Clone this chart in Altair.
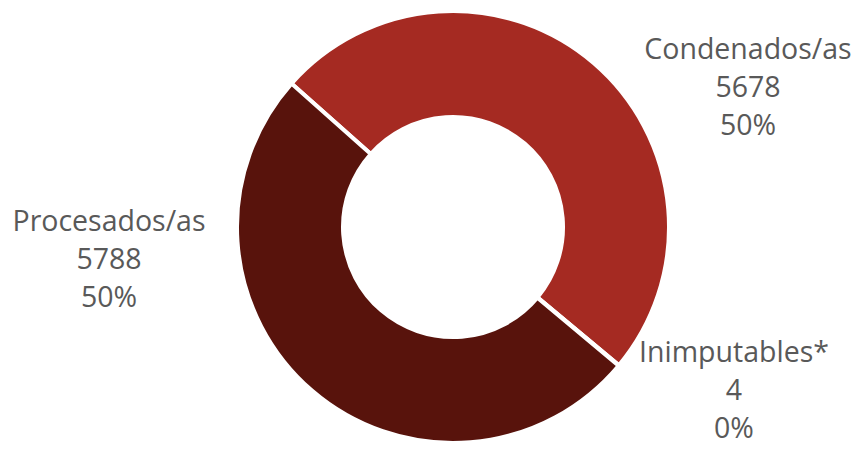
import altair as alt
import pandas as pd
import math

categories = ["Condenados/as", "Inimputables*", "Procesados/as"]
values = [5678, 4, 5788]
percents = ["50%", "0%", "50%"]
colors = ["#A52A22", "#7A1D15", "#58130C"]

df = pd.DataFrame({
    "categoria": categories,
    "valor": values,
    "pct": percents,
    "orden": list(range(len(categories))),
})
df["etiqueta"] = df["categoria"] + "\n" + df["valor"].astype(str) + "\n" + df["pct"]

start = math.radians(-48.4)
cx, cy = 445, 219

arc = alt.Chart(df).mark_arc(
    innerRadius=110, outerRadius=216, stroke="white", strokeWidth=4
).encode(
    theta=alt.Theta("valor:Q", stack=True,
                    scale=alt.Scale(range=[start, start + 2 * math.pi])),
    color=alt.Color("categoria:N", scale=alt.Scale(domain=categories, range=colors), legend=None),
    order=alt.Order("orden:Q"),
    x=alt.value(cx), y=alt.value(cy),
)

label_pos = {
    "Condenados/as": (740, 42),
    "Inimputables*": (726, 345),
    "Procesados/as": (101, 214),
}

layers = [arc]
for cat in categories:
    px, py = label_pos[cat]
    layers.append(
        alt.Chart(df).transform_filter(alt.datum.categoria == cat).mark_text(
            font="Open Sans", fontSize=28.5, color="#595959", align="center",
            baseline="middle", lineBreak="\n", lineHeight=38,
        ).encode(text="etiqueta:N", x=alt.value(px), y=alt.value(py))
    )

chart = alt.layer(*layers).properties(
    width=844, height=439, autosize="none", padding=0
).configure_view(stroke=None)

chart.save("out.html", embed_options={"renderer": "svg", "actions": False})
